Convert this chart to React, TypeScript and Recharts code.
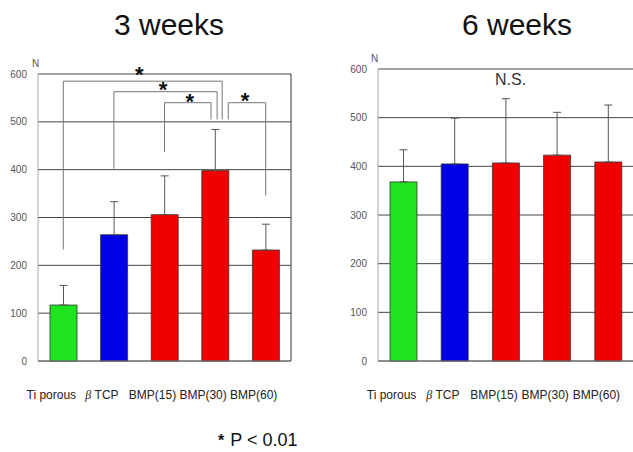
import { Bar, BarChart, CartesianGrid, Cell, ErrorBar, ReferenceDot, ReferenceLine, XAxis, YAxis } from "recharts";

const GROUPS = ["Ti porous", "β TCP", "BMP(15)", "BMP(30)", "BMP(60)"];
const POSITIONS = [0.5, 1.5, 2.5, 3.5, 4.5];
const BAR_COLORS = ["#1ee41e", "#0000e6", "#f20000", "#f20000", "#f20000"];
const Y_TICKS = [0, 100, 200, 300, 400, 500, 600];

// 3 weeks
const MEAN_3W = [117, 264, 306, 398, 232];
const SD_3W = [41, 69, 81, 86, 54];
// 6 weeks
const MEAN_6W = [368, 405, 407, 423, 409];
const SD_6W = [66, 94, 132, 88, 117];

// significance brackets (3 weeks), x in band units (0..5), y in N
const BRACKETS = [
  { x1: 0.5, x2: 3.64, top: 585, left: 233, right: 505 },
  { x1: 1.5, x2: 3.54, top: 563, left: 402, right: 505 },
  { x1: 2.5, x2: 3.42, top: 540, left: 437, right: 505 },
  { x1: 3.76, x2: 4.5, top: 540, left: 505, right: 346 },
];
const STARS = [
  { x: 2.0, y: 604 },
  { x: 2.47, y: 573 },
  { x: 3.0, y: 547 },
  { x: 4.09, y: 550 },
];

const FONT = "'Liberation Sans', Arial, sans-serif";

const toRows = (mean: number[], sd: number[]) =>
  GROUPS.map((g, i) => ({ name: g, pos: POSITIONS[i], value: mean[i], err: [0, sd[i]] }));

const labelFor = (v: number) => GROUPS[POSITIONS.indexOf(v)] ?? "";

const renderTick = (props: any) => {
  const { x, y, payload } = props;
  const label = labelFor(payload.value);
  return (
    <text x={x - 12} y={y + 30} textAnchor="middle" fontSize={12} fill="#222" fontFamily={FONT}>
      {label.startsWith("β") ? (
        <>
          <tspan fontStyle="italic" fontFamily="'Liberation Serif', serif">β</tspan>
          {label.slice(1)}
        </>
      ) : (
        label
      )}
    </text>
  );
};

const Star = (props: any) => {
  const { viewBox } = props;
  return (
    <text x={viewBox.x} y={viewBox.y + 10} textAnchor="middle" fontSize={22} fontWeight="bold" fill="#111" fontFamily={FONT}>
      *
    </text>
  );
};

function Panel({ data, margin, width, brackets }: { data: any[]; margin: any; width: number; brackets: boolean }) {
  return (
    <BarChart width={width} height={452} data={data} margin={margin} barSize={27}>
      <CartesianGrid horizontal vertical={false} stroke="#444" />
      <XAxis
        dataKey="pos"
        type="number"
        domain={[0, 5]}
        ticks={POSITIONS}
        allowDataOverflow
        tick={renderTick}
        tickLine={false}
        axisLine={{ stroke: "#777" }}
        height={80}
        interval={0}
      />
      <YAxis
        domain={[0, 600]}
        ticks={Y_TICKS}
        width={30}
        tickLine={false}
        tickMargin={5}
        axisLine={{ stroke: "#aaa" }}
        tick={{ fontSize: 10, fill: "#555", fontFamily: FONT }}
      />
      <ReferenceLine x={5} stroke="#333" ifOverflow="visible" />
      <Bar dataKey="value" stroke="#333" strokeWidth={0.8} isAnimationActive={false}>
        {data.map((d, i) => (
          <Cell key={d.name} fill={BAR_COLORS[i]} />
        ))}
        <ErrorBar dataKey="err" width={4} stroke="#555" strokeWidth={1} />
      </Bar>
      {brackets &&
        BRACKETS.flatMap((b, i) => [
          <ReferenceLine key={`t${i}`} stroke="#777" ifOverflow="visible" segment={[{ x: b.x1, y: b.top }, { x: b.x2, y: b.top }]} />,
          <ReferenceLine key={`l${i}`} stroke="#777" ifOverflow="visible" segment={[{ x: b.x1, y: b.top }, { x: b.x1, y: b.left }]} />,
          <ReferenceLine key={`r${i}`} stroke="#777" ifOverflow="visible" segment={[{ x: b.x2, y: b.top }, { x: b.x2, y: b.right }]} />,
        ])}
      {brackets &&
        STARS.map((s, i) => (
          <ReferenceDot key={`s${i}`} x={s.x} y={s.y} r={0} ifOverflow="visible" label={<Star />} />
        ))}
    </BarChart>
  );
}

export default function App() {
  const txt = (style: any, children: any) => (
    <div style={{ position: "absolute", fontFamily: FONT, whiteSpace: "nowrap", lineHeight: 1, ...style }}>{children}</div>
  );
  return (
    <div style={{ position: "absolute", left: 0, top: 0, width: 633, height: 452, overflow: "hidden", background: "#fff" }}>
      <div style={{ position: "absolute", left: 0, top: 0 }}>
        <Panel data={toRows(MEAN_3W, SD_3W)} width={300} margin={{ top: 74, right: 9, bottom: 11, left: 8 }} brackets />
      </div>
      <div style={{ position: "absolute", left: 330, top: 0 }}>
        <Panel data={toRows(MEAN_6W, SD_6W)} width={310} margin={{ top: 69, right: 6, bottom: 11, left: 18 }} brackets={false} />
      </div>
      {txt({ left: 114, top: 10, fontSize: 30, color: "#111" }, "3 weeks")}
      {txt({ left: 462, top: 10, fontSize: 30, color: "#111" }, "6 weeks")}
      {txt({ left: 32, top: 59, fontSize: 10, color: "#555" }, "N")}
      {txt({ left: 371, top: 54, fontSize: 10, color: "#555" }, "N")}
      {txt({ left: 495, top: 72, fontSize: 16, color: "#333" }, "N.S.")}
      {txt({ left: 218, top: 431, fontSize: 18, color: "#111" }, (
        <>
          <span style={{ fontWeight: "bold", fontSize: 16, marginRight: 6 }}>*</span>P &lt; 0.01
        </>
      ))}
    </div>
  );
}
